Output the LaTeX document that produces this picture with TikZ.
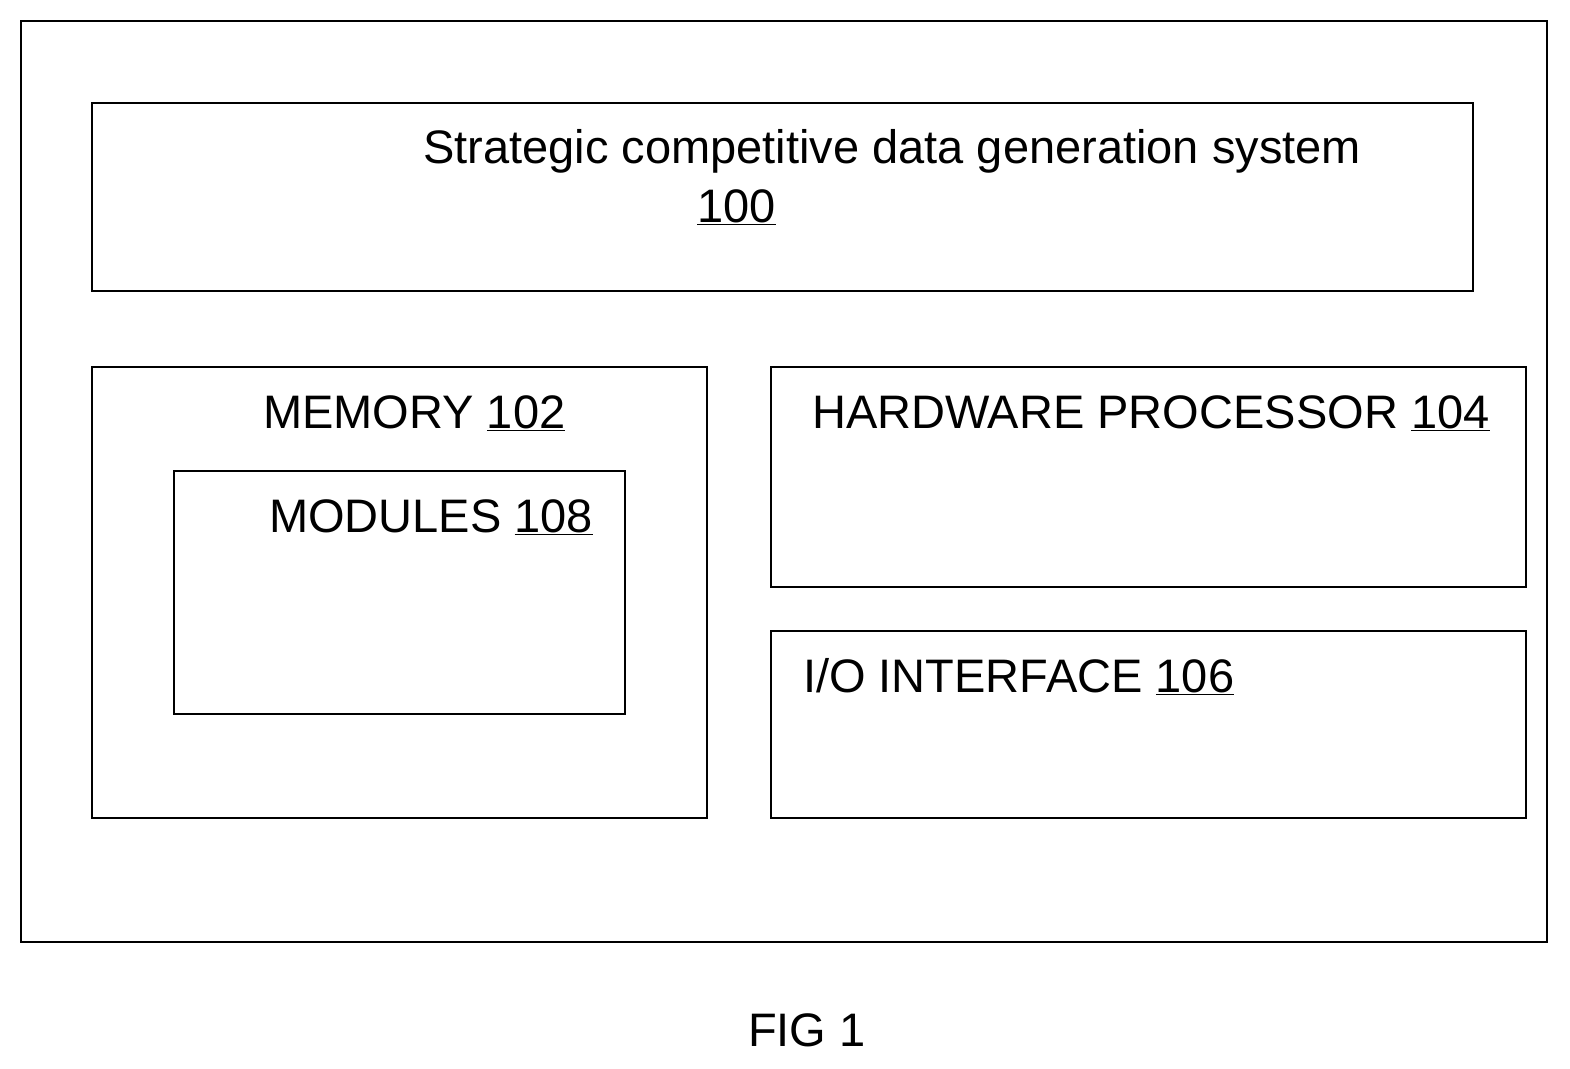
\documentclass[tikz,border=0pt]{standalone}
\usepackage{fontspec}
\setmainfont{Liberation Sans}
\begin{document}
\begin{tikzpicture}[x=1pt,y=-1pt,
  box/.style={draw=black,line width=2pt},
  lbl/.style={anchor=base west,inner sep=0pt,font=\fontsize{47}{56}\selectfont}]
\useasboundingbox (0,0) rectangle (1570,1068);
\draw[box] (21,21) rectangle (1547,942);
\draw[box] (92,103) rectangle (1473,291);
\draw[box] (92,367) rectangle (707,818);
\draw[box] (174,471) rectangle (625,714);
\draw[box] (771,367) rectangle (1526,587);
\draw[box] (771,631) rectangle (1526,818);
\node[lbl] (t1) at (423,163) {Strategic competitive data generation system};
\node[lbl] (t2) at (697,222) {\underline{100}};
\node[lbl] (m) at (263,428) {MEMORY \underline{102}};
\node[lbl] (mo) at (269,532) {MODULES \underline{108}};
\node[lbl] (hw) at (812,428) {HARDWARE PROCESSOR \underline{104}};
\node[lbl] (io) at (803,692) {I/O INTERFACE \underline{106}};
\node[lbl] (fig) at (748,1046) {FIG 1};
\end{tikzpicture}
\end{document}
